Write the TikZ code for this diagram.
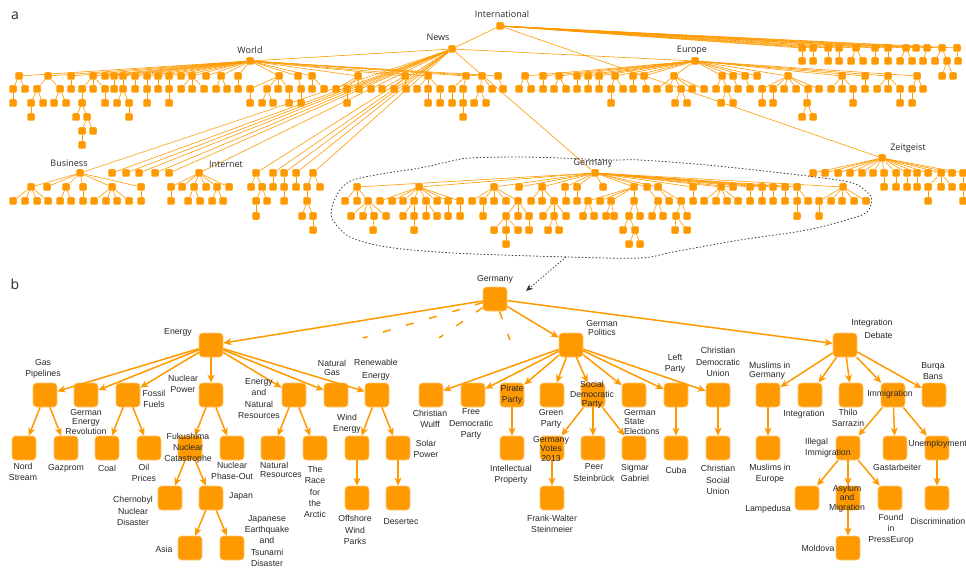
\documentclass[tikz,border=0pt]{standalone}
\usepackage{fontspec}
\setmainfont{Liberation Sans}
\newfontfamily\afont{Open Sans}
\usetikzlibrary{arrows.meta}
\definecolor{orng}{RGB}{255,153,0}
\definecolor{txt}{RGB}{40,40,40}
\newcommand\treerow[3]{\foreach \x/\p in {#3}{\node[sm] (a\x-#1) at (\x,#1) {}; \draw[ae] (a\p-#2) -- (a\x-#1);}}
\begin{document}
\begin{tikzpicture}[x=1pt,y=-1pt,
 sm/.style={rectangle, rounded corners=1.3pt, minimum size=7.5pt, inner sep=0pt, fill=orng, draw=orng!70!white, line width=0.3pt},
 ae/.style={draw=orng, line width=0.6pt},
 bn/.style={rectangle, rounded corners=3.5pt, minimum size=24pt, inner sep=0pt, fill=orng, draw=orng!55!white, line width=0.6pt},
 arr/.style={draw=orng, line width=1.5pt, -{Stealth[length=8pt,width=7pt,inset=2.2pt]}},
 dsh/.style={draw=orng, line width=1.5pt, dash pattern=on 8pt off 16pt},
 lbl/.style={font=\fontsize{8.7}{11.2}\selectfont, text=txt, align=center, inner sep=0pt},
 tight/.style={font=\fontsize{8.7}{9.3}\selectfont},
 albl/.style={font=\afont\fontsize{9}{11}\selectfont, text=txt, inner sep=0pt},
]
\path[use as bounding box] (0,0) rectangle (966,572);

% ---------------- part a ----------------
\node[font=\afont\fontsize{14}{14}\selectfont, text=txt, inner sep=0pt] (la) at (15,16) {a};
\node[sm, alias=a500-26] (aInt) at (500,26) {};
\node[sm, alias=a452-49] (aNews) at (452,49) {};
\node[sm, alias=a250-61] (aWorld) at (250,61) {};
\node[sm, alias=a695-61] (aEur) at (695,61) {};
\node[sm, alias=a80-173] (aBus) at (80,173) {};
\node[sm, alias=a199-173] (aNet) at (199,173) {};
\node[sm, alias=a595-173] (aGer) at (595,173) {};
\node[sm, alias=a882-158] (aZeit) at (882,158) {};
\draw[ae] (aInt) -- (aNews);
\draw[ae] (aInt) -- (aZeit);
\draw[ae] (aNews) -- (aWorld);
\draw[ae] (aNews) -- (aEur);
\draw[ae] (aNews) -- (aBus);
\draw[ae] (aNews) -- (aNet);
\draw[ae] (aNews) -- (aGer);

\treerow{48}{26}{802/500,813/500,828/500,839/500,856/500,875/500,888/500,906/500,916/500,927/500,942/500,957/500}
\treerow{61}{48}{802/802,813/813,828/828,839/839,851/856,863/856,875/875,888/888,900/906,912/906,923/927,935/942,947/942,958/957}
\treerow{76}{61}{19/250,48/250,71/250,93/250,105/250,114/250,123/250,135/250,147/250,158/250,169/250,181/250,192/250,206/250,221/250,238/250,279/250,298/250,312/250,358/250,405/250,428/250,466/250,482/250,498/250,
525/695,543/695,559/695,577/695,588/695,599/695,615/695,633/695,644/695,674/695,722/695,733/695,745/695,757/695,788/695,842/695,865/695,888/695,917/695,942/947,953/947}
\treerow{89}{76}{13/19,25/19,37/48,60/48,71/71,82/93,93/93,105/93,114/114,123/123,135/135,147/147,158/158,169/169,181/192,192/192,204/192,216/221,227/221,238/238,250/279,267/279,278/279,289/279,301/298,312/312,
324/312,336/358,347/358,359/358,371/358,382/405,394/405,406/405,417/428,428/428,440/428,452/466,463/466,480/482,492/482,503/498,
519/525,531/525,543/543,554/559,566/559,577/577,588/588,599/599,611/615,623/615,633/633,
646/644,657/674,669/674,681/674,692/674,704/674,716/722,727/722,738/733,750/745,762/788,773/788,784/788,796/788,808/788,819/788,831/842,842/842,853/842,865/865,877/888,888/888,900/888,912/917,923/917}
\treerow{103}{89}{13/13,31/37,43/37,54/60,66/60,82/82,105/105,117/123,129/123,147/147,169/169,250/250,262/267,273/267,289/289,301/301,
347/347,428/428,440/440,452/452,463/463,474/480,486/480,
611/611,675/681,687/681,721/727,733/727,762/762,773/773,807/808,853/853,900/900,912/912}
\treerow{117}{103}{31/31,76/82,87/82,129/129,463/463,802/807,813/807}
\treerow{131}{117}{82/87,93/87}
\treerow{145}{131}{82/82}

\treerow{173}{49}{112/452,126/452,139/452,155/452,169/452,256/452,273/452,284/452,296/452,313/452}
\treerow{173}{158}{813/882,825/882,838/882,850/882,862/882,873/882,884/882,896/882,907/882,917/882,928/882,941/882,952/882,963/882}
\treerow{187}{173}{31/80,47/80,66/80,83/80,112/80,141/80,
171/199,182/199,194/199,206/199,217/199,229/199,
251/256,262/256,273/273,284/284,296/296,307/313,320/313,
357/595,419/595,494/595,519/595,542/595,565/595,577/595,603/595,634/595,647/595,658/595,693/595,721/595,733/595,750/595,762/595,773/595,785/595,797/595,843/595,
884/884,896/896,907/907,917/917,928/941,941/941,952/941,963/963}
\treerow{201}{187}{13/31,25/31,37/31,48/31,60/66,71/66,83/83,94/112,106/112,117/112,129/112,141/141,
171/171,188/194,200/194,212/217,223/217,
256/262,267/262,284/284,307/307,
345/357,357/357,368/357,380/419,392/419,403/419,414/419,426/419,437/419,448/419,460/419,472/494,483/494,494/494,506/494,518/494,531/542,542/542,554/542,566/565,577/577,588/634,600/634,611/634,634/634,658/647,669/658,681/658,693/693,704/721,716/721,727/721,738/721,750/750,762/762,773/773,785/785,797/797,808/797,819/843,831/843,842/843,854/843,866/843,
928/928,963/963}
\treerow{216}{201}{256/256,302/307,313/307,
351/368,363/368,374/368,386/368,403/414,414/414,426/426,437/426,448/448,460/460,483/483,506/518,518/518,529/518,543/554,554/554,566/554,583/588,594/588,606/611,614/611,629/634,640/634,652/658,663/658,676/681,687/681,797/797,819/819}
\treerow{230}{216}{313/313,373/374,414/414,494/506,506/506,518/506,529/529,548/554,559/554,623/629,635/629,675/676,687/676}
\treerow{244}{230}{506/506,629/635,640/635}

\node[albl] (tInt) at (502,14) {International};
\node[albl] (tNews) at (438,37) {News};
\node[albl] (tWorld) at (250,50) {World};
\node[albl] (tEur) at (692,50) {Europe};
\node[albl] (tBus) at (69,163) {Business};
\node[albl] (tNet) at (226,164) {Internet};
\node[albl] (tGerA) at (593,163) {Germany};
\node[albl] (tZeit) at (908,148) {Zeitgeist};

% dotted loop
\draw[black!75, line width=0.9pt, dash pattern=on 0.9pt off 2.6pt, line cap=round]
 plot[smooth cycle, tension=0.55] coordinates {(353,180) (387,173) (420,168) (447,162) (470,158) (520,157) (560,158) (613,160) (640,160) (707,165) (773,172) (823,178) (853,183) (867,192) (872,200) (867,212) (853,218) (807,230) (740,240) (673,252) (640,258) (567,257) (453,253) (387,247) (350,237) (333,220) (332,207) (340,190)};
\coordinate (loopend) at (566,257);
\coordinate (looptip) at (526,291);
\draw[black!80, line width=0.9pt, dash pattern=on 1.2pt off 2pt, -{Stealth[length=7pt,width=6pt]}] (loopend) -- (looptip);

% ---------------- part b ----------------
\node[font=\afont\fontsize{14}{14}\selectfont, text=txt, inner sep=0pt] (lb) at (15,284) {b};
\node[bn] (bGermany) at (495,299) {};
\node[bn] (bEnergy) at (211,345) {};
\node[bn] (bGP) at (45,395) {};
\node[bn] (bGER) at (86,395) {};
\node[bn] (bFF) at (128,395) {};
\node[bn] (bNP) at (211,395) {};
\node[bn] (bENR) at (294,395) {};
\node[bn] (bNG) at (336,395) {};
\node[bn] (bRE) at (377,395) {};
\node[bn] (bNS) at (24,448) {};
\node[bn] (bGaz) at (66,448) {};
\node[bn] (bCoal) at (107,448) {};
\node[bn] (bOil) at (149,448) {};
\node[bn] (bFuk) at (190,448) {};
\node[bn] (bNPO) at (232,448) {};
\node[bn] (bChe) at (170,498) {};
\node[bn] (bJap) at (211,498) {};
\node[bn] (bAsia) at (190,548) {};
\node[bn] (bJET) at (232,548) {};
\node[bn] (bNR) at (273,448) {};
\node[bn] (bRace) at (315,448) {};
\node[bn] (bWind) at (357,448) {};
\node[bn] (bSolar) at (398,448) {};
\node[bn] (bOff) at (357,498) {};
\node[bn] (bDes) at (398,498) {};
\node[bn] (bGPol) at (571,345) {};
\node[bn] (bCW) at (431,395) {};
\node[bn] (bFDP) at (473,395) {};
\node[bn] (bPir) at (512,395) {};
\node[bn] (bGreen) at (552,395) {};
\node[bn] (bSPD) at (593,395) {};
\node[bn] (bGSE) at (634,395) {};
\node[bn] (bLeft) at (676,395) {};
\node[bn] (bCDU) at (718,395) {};
\node[bn] (bIP) at (512,448) {};
\node[bn] (bGV) at (552,448) {};
\node[bn] (bPeer) at (593,448) {};
\node[bn] (bSig) at (634,448) {};
\node[bn] (bCuba) at (676,448) {};
\node[bn] (bCSU) at (718,448) {};
\node[bn] (bFWS) at (552,498) {};
\node[bn] (bID) at (845,345) {};
\node[bn] (bMiG) at (768,395) {};
\node[bn] (bInt) at (810,395) {};
\node[bn] (bThilo) at (851,395) {};
\node[bn] (bImm) at (893,395) {};
\node[bn] (bBurqa) at (934,395) {};
\node[bn] (bMiE) at (768,448) {};
\node[bn] (bIll) at (848,448) {};
\node[bn] (bGast) at (895,448) {};
\node[bn] (bUnemp) at (937,448) {};
\node[bn] (bLamp) at (807,498) {};
\node[bn] (bAsy) at (848,498) {};
\node[bn] (bFound) at (890,498) {};
\node[bn] (bDisc) at (937,498) {};
\node[bn] (bMold) at (848,548) {};

\coordinate (d1) at (363,338);
\coordinate (d2) at (439,338);
\coordinate (d3) at (510,340);
\draw[dsh] (bGermany) -- (d1);
\draw[dsh] (bGermany) -- (d2);
\draw[dsh] (bGermany) -- (d3);

\foreach \a/\b in {bGermany/bEnergy,bGermany/bGPol,bGermany/bID,
 bEnergy/bGP,bEnergy/bGER,bEnergy/bFF,bEnergy/bNP,bEnergy/bENR,bEnergy/bNG,bEnergy/bRE,
 bGP/bNS,bGP/bGaz,bFF/bCoal,bFF/bOil,bNP/bFuk,bNP/bNPO,bFuk/bChe,bFuk/bJap,bJap/bAsia,bJap/bJET,
 bENR/bNR,bENR/bRace,bRE/bWind,bRE/bSolar,bWind/bOff,bSolar/bDes,
 bGPol/bCW,bGPol/bFDP,bGPol/bPir,bGPol/bGreen,bGPol/bSPD,bGPol/bGSE,bGPol/bLeft,bGPol/bCDU,
 bPir/bIP,bSPD/bGV,bSPD/bPeer,bSPD/bSig,bLeft/bCuba,bCDU/bCSU,bGV/bFWS,
 bID/bMiG,bID/bInt,bID/bThilo,bID/bImm,bID/bBurqa,bMiG/bMiE,
 bImm/bIll,bImm/bGast,bImm/bUnemp,bUnemp/bDisc,bIll/bLamp,bIll/bAsy,bIll/bFound,bAsy/bMold}
 {\draw[arr] (\a) -- (\b);}

\node[lbl] (tGermany) at (495,279) {Germany};
\node[lbl] (tEnergy) at (178,332) {Energy};
\node[lbl] (tGP) at (43,368.5) {Gas\\Pipelines};
\node[lbl,tight] (tGER) at (86,422) {German\\Energy\\Revolution};
\node[lbl] (tFF) at (154,399) {Fossil\\Fuels};
\node[lbl] (tNP) at (183,384) {Nuclear\\Power};
\node[lbl] (tENR) at (259,398.5) {Energy\\and\\Natural\\Resources};
\node[lbl,tight] (tNG) at (332,368) {Natural\\Gas};
\node[lbl,font=\fontsize{8.7}{12.8}\selectfont] (tRE) at (376,369.5) {Renewable\\Energy};
\node[lbl] (tNS) at (23,472) {Nord\\Stream};
\node[lbl] (tGaz) at (66,468) {Gazprom};
\node[lbl] (tCoal) at (107,468) {Coal};
\node[lbl] (tOil) at (144,473) {Oil\\Prices};
\node[lbl] (tFuk) at (188,448.5) {Fukushima\\Nuclear\\Catastrophe};
\node[lbl] (tNPO) at (232,471) {Nuclear\\Phase-Out};
\node[lbl] (tChe) at (133,511) {Chernobyl\\Nuclear\\Disaster};
\node[lbl] (tJap) at (241,496) {Japan};
\node[lbl] (tAsia) at (164,549) {Asia};
\node[lbl] (tJET) at (267,541) {Japanese\\Earthquake\\and\\Tsunami\\Disaster};
\node[lbl,tight,align=left,anchor=west] (tNR) at (260,470) {Natural\\Resources};
\node[lbl] (tRace) at (315,492) {The\\Race\\for\\the\\Arctic};
\node[lbl] (tWind) at (347,424) {Wind\\Energy};
\node[lbl] (tSolar) at (426,448.5) {Solar\\Power};
\node[lbl] (tOff) at (355,530) {Offshore\\Wind\\Parks};
\node[lbl] (tDes) at (401,522) {Desertec};
\node[lbl,tight] (tGPol) at (602,328) {German\\Politics};
\node[lbl] (tCW) at (430,418.5) {Christian\\Wulff};
\node[lbl] (tFDP) at (471,424) {Free\\Democratic\\Party};
\node[lbl] (tPir) at (512,395) {Pirate\\Party};
\node[lbl] (tGreen) at (551,418.5) {Green\\Party};
\node[lbl,tight] (tSPD) at (592,395) {Social\\Democratic\\Party};
\node[lbl,tight,align=left,anchor=west] (tGSE) at (624,422) {German\\State\\Elections};
\node[lbl] (tLeft) at (675,363.5) {Left\\Party};
\node[lbl] (tCDU) at (718,362) {Christian\\Democratic\\Union};
\node[lbl] (tIP) at (511,474.5) {Intellectual\\Property};
\node[lbl,tight] (tGV) at (551,449) {Germany\\Votes\\2013};
\node[lbl] (tPeer) at (594,472.5) {Peer\\Steinbrück};
\node[lbl] (tSig) at (635,472.5) {Sigmar\\Gabriel};
\node[lbl] (tCuba) at (676,470) {Cuba};
\node[lbl] (tCSU) at (718,480) {Christian\\Social\\Union};
\node[lbl] (tFWS) at (552,523.5) {Frank-Walter\\Steinmeier};
\node[lbl,align=right,font=\fontsize{8.7}{12.8}\selectfont] (tID) at (872,328.5) {Integration\\Debate};
\node[lbl,tight,align=left,anchor=west] (tMiG) at (749,370.5) {Muslims in\\Germany};
\node[lbl] (tIntg) at (804,414) {Integration};
\node[lbl] (tThilo) at (848,418) {Thilo\\Sarrazin};
\node[lbl] (tImm) at (890,394) {Immigration};
\node[lbl] (tBurqa) at (933,371) {Burqa\\Bans};
\node[lbl] (tMiE) at (770,473.5) {Muslims in\\Europe};
\node[lbl,align=left,anchor=west] (tIll) at (805,448) {Illegal\\Immigration};
\node[lbl] (tGast) at (897,467) {Gastarbeiter};
\node[lbl] (tUnemp) at (937.5,444) {Unemployment};
\node[lbl] (tLamp) at (768,509) {Lampedusa};
\node[lbl,tight] (tAsy) at (847,498.5) {Asylum\\and\\Migration};
\node[lbl] (tFound) at (891,529.5) {Found\\in\\PressEurop};
\node[lbl] (tDisc) at (938,521) {Discrimination};
\node[lbl] (tMold) at (818,548) {Moldova};
\end{tikzpicture}
\end{document}
